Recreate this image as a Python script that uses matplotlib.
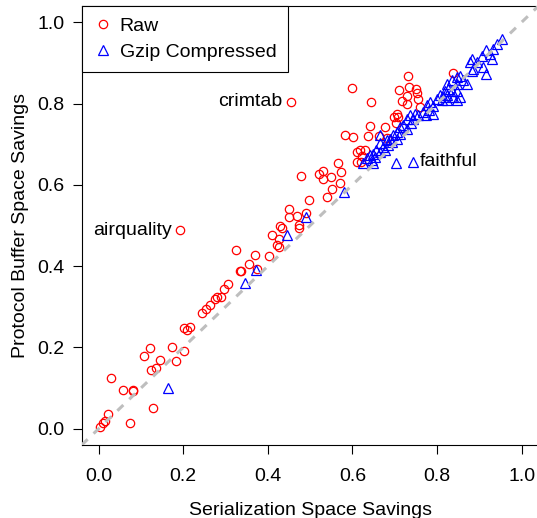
import matplotlib
matplotlib.use("Agg")
import matplotlib.pyplot as plt

plt.rcParams["font.family"] = ["Liberation Sans", "DejaVu Sans"]

# raw serialization vs protocol buffer savings (one point per dataset)
raw_x = [0.003, 0.011, 0.015, 0.023, 0.074, 0.029, 0.058, 0.082, 0.082, 0.128,
         0.108, 0.122, 0.125, 0.136, 0.146, 0.174, 0.183, 0.203, 0.203, 0.210,
         0.216, 0.244, 0.253, 0.263, 0.275, 0.279, 0.289, 0.296, 0.307, 0.324,
         0.334, 0.336, 0.356, 0.370, 0.375, 0.403, 0.410, 0.421, 0.427, 0.429,
         0.434, 0.427, 0.449, 0.449, 0.469, 0.473, 0.473, 0.490, 0.498, 0.192,
         0.454, 0.478, 0.522, 0.530, 0.531, 0.549, 0.566, 0.574, 0.571, 0.552,
         0.541, 0.583, 0.601, 0.611, 0.617, 0.610, 0.622, 0.630, 0.636, 0.642,
         0.662, 0.677, 0.600, 0.643, 0.731, 0.733, 0.710, 0.750, 0.753, 0.728,
         0.717, 0.730, 0.756, 0.759, 0.705, 0.698, 0.708, 0.703, 0.681, 0.839,
         0.621]
raw_y = [0.005, 0.013, 0.018, 0.037, 0.013, 0.125, 0.096, 0.096, 0.092, 0.052,
         0.178, 0.198, 0.145, 0.149, 0.169, 0.202, 0.167, 0.191, 0.249, 0.242,
         0.250, 0.284, 0.294, 0.305, 0.318, 0.323, 0.325, 0.343, 0.356, 0.439,
         0.388, 0.388, 0.406, 0.428, 0.394, 0.426, 0.477, 0.452, 0.447, 0.500,
         0.493, 0.468, 0.540, 0.521, 0.523, 0.501, 0.495, 0.530, 0.563, 0.488,
         0.804, 0.623, 0.627, 0.635, 0.615, 0.620, 0.655, 0.632, 0.605, 0.589,
         0.569, 0.723, 0.718, 0.682, 0.686, 0.656, 0.672, 0.685, 0.721, 0.744,
         0.721, 0.743, 0.839, 0.804, 0.869, 0.841, 0.834, 0.837, 0.825, 0.818,
         0.806, 0.800, 0.811, 0.791, 0.775, 0.767, 0.767, 0.751, 0.716, 0.875,
         0.656]

# same datasets after gzip compression
gzip_x = [0.163, 0.347, 0.371, 0.446, 0.490, 0.579, 0.703, 0.744,
          0.954, 0.941, 0.932, 0.925, 0.917, 0.906, 0.929, 0.883, 0.878, 0.894,
          0.908, 0.886, 0.916, 0.882, 0.854, 0.847, 0.862, 0.835, 0.823, 0.847,
          0.870, 0.827, 0.819, 0.835, 0.847, 0.854, 0.839, 0.823, 0.815, 0.807,
          0.823, 0.847, 0.811, 0.799, 0.783, 0.776, 0.790, 0.782, 0.768, 0.791,
          0.774, 0.756, 0.748, 0.736, 0.744, 0.728, 0.739, 0.720, 0.728, 0.713,
          0.705, 0.713, 0.697, 0.706, 0.689, 0.693, 0.681, 0.685, 0.673, 0.665,
          0.665, 0.677, 0.665, 0.657, 0.649, 0.653, 0.642, 0.634, 0.646, 0.626,
          0.649]
gzip_y = [0.100, 0.358, 0.391, 0.477, 0.522, 0.582, 0.653, 0.657,
          0.959, 0.947, 0.935, 0.922, 0.931, 0.918, 0.910, 0.910, 0.902, 0.902,
          0.889, 0.886, 0.873, 0.881, 0.869, 0.865, 0.857, 0.857, 0.849, 0.849,
          0.849, 0.837, 0.832, 0.832, 0.832, 0.816, 0.816, 0.820, 0.816, 0.820,
          0.808, 0.808, 0.808, 0.812, 0.804, 0.796, 0.793, 0.783, 0.779, 0.775,
          0.771, 0.771, 0.775, 0.771, 0.763, 0.763, 0.751, 0.747, 0.738, 0.742,
          0.730, 0.726, 0.722, 0.714, 0.714, 0.706, 0.710, 0.698, 0.693, 0.722,
          0.702, 0.685, 0.681, 0.685, 0.677, 0.669, 0.673, 0.665, 0.661, 0.653,
          0.653]

# datasets called out on the chart
label_names = ["crimtab", "airquality", "faithful"]
label_x = [0.454, 0.192, 0.744]
label_y = [0.804, 0.488, 0.657]
label_side = ["left", "left", "right"]

fig = plt.figure(figsize=(5.37, 5.18), dpi=100)
ax = fig.add_axes([0.1521, 0.1409, 0.8507, 0.8475])

ax.plot(raw_x, raw_y, linestyle="none", marker="o", markersize=6,
        markerfacecolor="none", markeredgecolor="#ff0000", markeredgewidth=0.9,
        label="Raw")
ax.plot(gzip_x, gzip_y, linestyle="none", marker="^", markersize=7,
        markerfacecolor="none", markeredgecolor="#0000ff", markeredgewidth=0.9,
        label="Gzip Compressed")

# y = x reference
ax.axline((0, 0), (1, 1), color="#bebebe", linewidth=2.2,
          linestyle=(0, (2.7, 2.7)), zorder=5)

for name, x, y, side in zip(label_names, label_x, label_y, label_side):
    if side == "left":
        ax.annotate(name, (x, y), xytext=(-6, 0), textcoords="offset points",
                    ha="right", va="center", fontsize=14)
    else:
        ax.annotate(name, (x, y), xytext=(5, 0), textcoords="offset points",
                    ha="left", va="center", fontsize=14)

ax.set_xlim(-0.04, 1.04)
ax.set_ylim(-0.04, 1.04)
ticks = [0.0, 0.2, 0.4, 0.6, 0.8, 1.0]
ax.set_xticks(ticks)
ax.set_yticks(ticks)
ax.set_xticklabels([f"{t:.1f}" for t in ticks])
ax.set_yticklabels([f"{t:.1f}" for t in ticks])
ax.tick_params(direction="out", length=6.5, width=0.8, labelsize=14, pad=6)
ax.tick_params(axis="x", pad=10)

for sp in ax.spines.values():
    sp.set_linewidth(0.8)

ax.set_xlabel("Serialization Space Savings", fontsize=14, labelpad=12)
ax.set_ylabel("Protocol Buffer Space Savings", fontsize=14, labelpad=6)

leg = ax.legend(loc="upper left", bbox_to_anchor=(0, 1), borderaxespad=0,
                fancybox=False, edgecolor="black", framealpha=1,
                fontsize=14, handlelength=1.0, handletextpad=0.35,
                borderpad=0.6, labelspacing=0.4)
leg.get_frame().set_linewidth(0.8)

fig.savefig("out.png", dpi=100)
